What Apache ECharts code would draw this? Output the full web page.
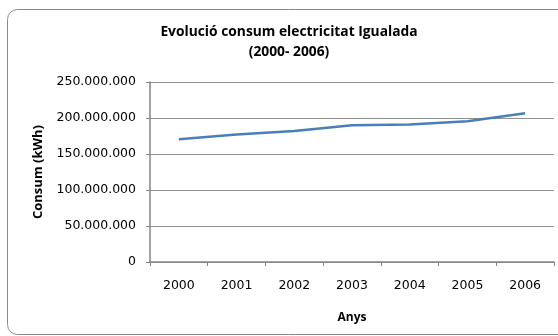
<!DOCTYPE html>
<html>
<head>
<meta charset="utf-8">
<script src="https://cdn.jsdelivr.net/npm/echarts@6/dist/echarts.min.js"></script>
<style>
  html, body { margin: 0; padding: 0; background: #fff; }
  #main { width: 558px; height: 336px; }
</style>
</head>
<body>
<div id="main"></div>
<script>
  const years = ['2000', '2001', '2002', '2003', '2004', '2005', '2006'];
  // consum anual en kWh
  const consum = [170500000, 177000000, 182000000, 190000000, 191000000, 195500000, 206500000];
  const yTicks = [0, 50000000, 100000000, 150000000, 200000000, 250000000];

  const chart = echarts.init(document.getElementById('main'));

  // punts com a separador de milers
  const fmt = (v) => String(v).replace(/\B(?=(\d{3})+(?!\d))/g, '.');

  const boldText = { fontFamily: 'Open Sans', fontWeight: 'bold', color: '#000' };

  const option = {
    animation: false,
    textStyle: { fontFamily: 'DejaVu Sans' },
    title: {
      text: 'Evolució consum electricitat Igualada\n(2000- 2006)',
      left: 289,
      top: 22,
      padding: 0,
      textAlign: 'center',
      textStyle: { ...boldText, fontSize: 13.8, lineHeight: 20 },
    },
    graphic: [
      {
        type: 'rect',
        shape: { x: 7.5, y: 9.5, width: 580, height: 325, r: 10 },
        style: { fill: 'none', stroke: '#8a8a8a', lineWidth: 1 },
        silent: true,
      },
    ],
    grid: { left: 150, right: 4, top: 82, bottom: 74 },
    xAxis: {
      type: 'category',
      data: years,
      boundaryGap: true,
      name: 'Anys',
      nameLocation: 'middle',
      nameGap: 50,
      nameTextStyle: { ...boldText, fontSize: 12 },
      axisLine: { lineStyle: { color: '#868686', width: 1.5 } },
      axisTick: { show: true, length: 4, lineStyle: { color: '#868686' } },
      axisLabel: { color: '#000', fontFamily: 'DejaVu Sans', fontSize: 12.5, margin: 17 },
    },
    yAxis: {
      type: 'value',
      min: 0,
      max: 250000000,
      interval: 50000000,
      name: 'Consum (kWh)',
      nameLocation: 'middle',
      nameRotate: 90,
      nameGap: 105,
      nameTextStyle: { ...boldText, fontSize: 13 },
      axisLine: { show: true, lineStyle: { color: '#868686', width: 1.5 } },
      axisTick: { show: true, length: 4, lineStyle: { color: '#868686' } },
      axisLabel: {
        color: '#000',
        fontFamily: 'DejaVu Sans',
        fontSize: 12.5,
        margin: 14,
        formatter: (v) => (yTicks.includes(v) ? fmt(v) : ''),
      },
      splitLine: { show: true, lineStyle: { color: '#8e8e8e', width: 1 } },
    },
    series: [
      {
        name: 'Consum',
        type: 'line',
        data: consum,
        showSymbol: false,
        lineStyle: { color: '#4a7ebb', width: 2.5 },
        itemStyle: { color: '#4a7ebb' },
      },
    ],
  };

  chart.setOption(option);
</script>
</body>
</html>
